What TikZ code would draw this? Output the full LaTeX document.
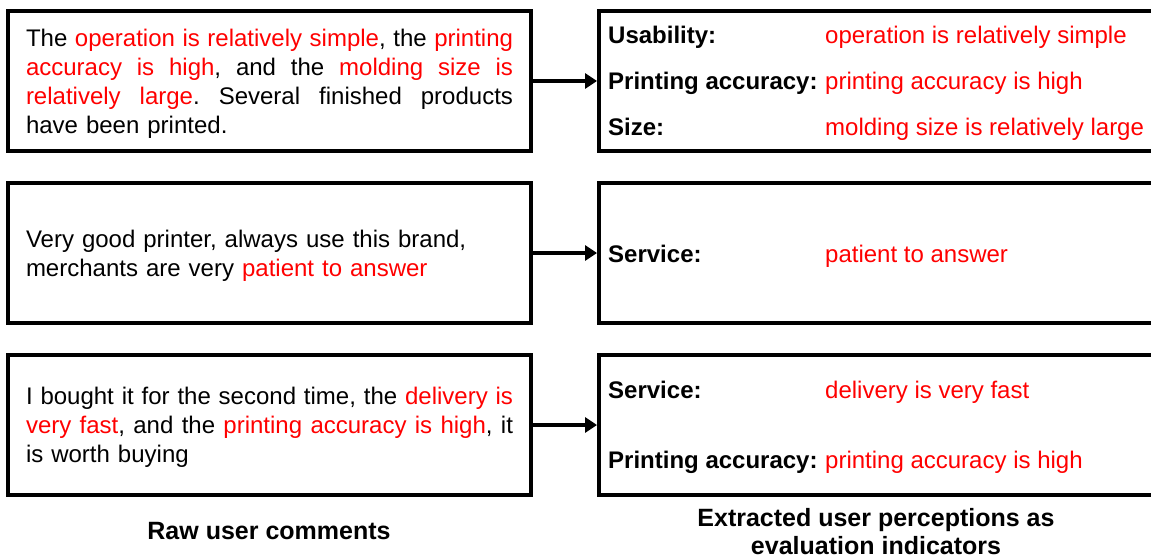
\documentclass[tikz,border=0pt]{standalone}
\usepackage{fontspec}
\setmainfont{Liberation Sans}
\usetikzlibrary{arrows.meta}
\definecolor{hl}{RGB}{255,0,0}
\newcommand{\hl}[1]{\textcolor{hl}{#1}}
% a full-width line whose word spaces stretch to fill the column
\newcommand{\jline}[1]{\makebox[487pt][s]{\spaceskip=0pt\xspaceskip=0pt\relax #1}}
\frenchspacing
\begin{document}
\begin{tikzpicture}[x=1pt,y=-1pt,
  every node/.style={font=\fontsize{24}{29}\selectfont},
  rawbox/.style={draw, line width=3.6pt, minimum width=523pt, minimum height=140pt, inner sep=0pt},
  indbox/.style={draw, line width=3.6pt, minimum width=620pt, minimum height=140pt, inner sep=0pt},
  rawtext/.style={text width=487pt, align=left, inner sep=0pt, yshift=-2.5pt},
  label/.style={anchor=west, inner sep=0pt, text height=17pt, text depth=5pt, yshift=-2.5pt, font=\fontsize{24}{29}\selectfont\bfseries},
  value/.style={anchor=west, inner sep=0pt, text height=17pt, text depth=5pt, yshift=-2.5pt, text=hl},
  link/.style={line width=3.6pt, -{Triangle[length=12pt,width=15pt]}},
  caption/.style={align=center, inner sep=0pt, font=\fontsize{25}{28}\selectfont\bfseries}
]
\useasboundingbox (0,0) rectangle (1151,559);
\clip (0,0) rectangle (1151,559);

% raw user comments
\node[rawbox] (raw1) at (269.5,81) {};
\node[rawtext] (rt1) at (raw1.center) {%
  \jline{The \hl{operation is relatively simple}, the \hl{printing}}\\
  \jline{\hl{accuracy is high}, and the \hl{molding size is}}\\
  \jline{\hl{relatively large}. Several finished products}\\
  have been printed.};

\node[rawbox] (raw2) at (269.5,253) {};
\node[rawtext] (rt2) at (raw2.center) {%
  Very good printer, always use this brand,\\
  merchants are very \hl{patient to answer}};

\node[rawbox] (raw3) at (269.5,425) {};
\node[rawtext] (rt3) at (raw3.center) {%
  \jline{I bought it for the second time, the \hl{delivery is}}\\
  \jline{\hl{very fast}, and the \hl{printing accuracy is high}, it}\\
  is worth buying};

% extracted evaluation indicators
\node[indbox, anchor=west] (ind1) at (597,81) {};
\node[indbox, anchor=west] (ind2) at (597,253) {};
\node[indbox, anchor=west] (ind3) at (597,425) {};

\node[label] (l11) at (608,35) {Usability:};
\node[value] (v11) at (825,35) {operation is relatively simple};
\node[label] (l12) at (608,81) {Printing accuracy:};
\node[value] (v12) at (825,81) {printing accuracy is high};
\node[label] (l13) at (608,127) {Size:};
\node[value] (v13) at (825,127) {molding size is relatively large};

\node[label] (l21) at (608,254) {Service:};
\node[value] (v21) at (825,254) {patient to answer};

\node[label] (l31) at (608,390) {Service:};
\node[value] (v31) at (825,390) {delivery is very fast};
\node[label] (l32) at (608,460) {Printing accuracy:};
\node[value] (v32) at (825,460) {printing accuracy is high};

% connectors
\draw[link] (raw1.east) -- (ind1.west);
\draw[link] (raw2.east) -- (ind2.west);
\draw[link] (raw3.east) -- (ind3.west);

% column captions
\node[caption] (cap1) at (269,531) {Raw user comments};
\node[caption] (cap2) at (876,532) {Extracted user perceptions as\\evaluation indicators};
\end{tikzpicture}
\end{document}
